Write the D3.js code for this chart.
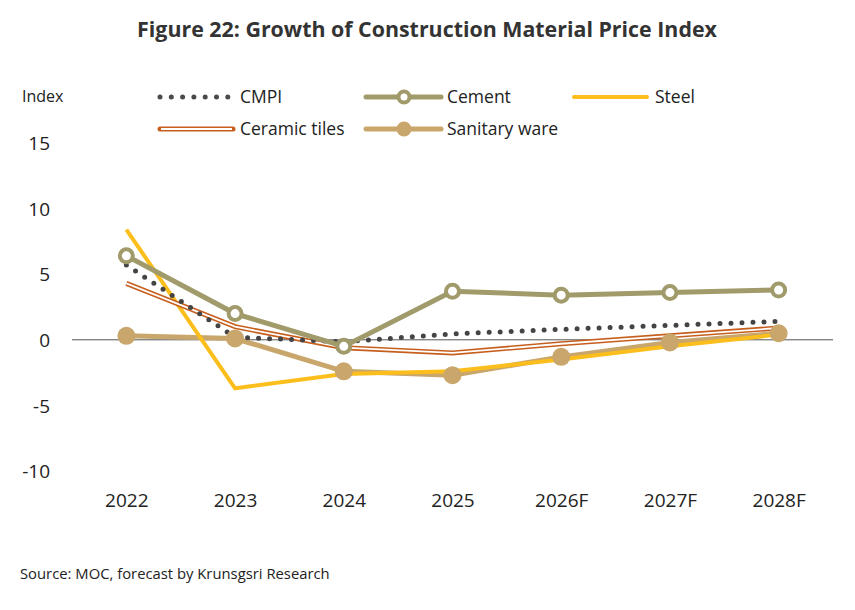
<!DOCTYPE html>
<html><head><meta charset="utf-8">
<script src="https://cdn.jsdelivr.net/npm/d3@7"></script>
<style>body{margin:0;background:#fff;} text{font-family:"Open Sans",sans-serif;fill:#222;}</style>
</head><body>
<svg id="c" width="855" height="610"></svg>
<script>
const categories = ["2022","2023","2024","2025","2026F","2027F","2028F"];
const cmpi = [5.7, 0.2, -0.15, 0.45, 0.8, 1.1, 1.4];
const cement = [6.4, 2.0, -0.5, 3.7, 3.4, 3.6, 3.8];
const steel = [8.4, -3.7, -2.6, -2.4, -1.5, -0.5, 0.4];
const ceramic = [4.3, 1.0, -0.6, -1.0, -0.3, 0.3, 0.9];
const sanitary = [0.3, 0.1, -2.4, -2.7, -1.3, -0.2, 0.5];
const yTicks = [15, 10, 5, 0, -5, -10];

const svg = d3.select("#c");
const x = d3.scalePoint().domain(categories).range([72, 833]).padding(0.5);
const y = d3.scaleLinear().domain([-10, 15]).range([471, 143]);

// title
const title = svg.append("text").attr("x", 427).attr("y", 37).attr("text-anchor","middle")
  .style("font-weight","bold").style("font-size","21px").style("fill","#333")
  .text("Figure 22: Growth of Construction Material Price Index");
const tw = title.node().getComputedTextLength();
title.style("font-size", (21*580/tw)+"px");

// y axis labels
const yAxis = d3.axisLeft(y).tickValues(yTicks).tickSize(0).tickPadding(0).tickFormat(d=>d);
const ga = svg.append("g").attr("transform","translate(50,0)").call(yAxis);
ga.select(".domain").remove();
ga.selectAll("text").style("font-size","19px").style("font-family","'Open Sans',sans-serif").attr("fill","#222").attr("dy","0.35em");
svg.append("text").attr("x",22).attr("y",102).style("font-size","16px").text("Index");

// x axis labels
const xAxis = d3.axisBottom(x).tickSize(0).tickPadding(0);
const gx = svg.append("g").attr("transform","translate(0,500)").call(xAxis);
gx.select(".domain").remove();
gx.selectAll("text").style("font-size","19px").style("font-family","'Open Sans',sans-serif").attr("fill","#222").attr("dy","0.35em");

// zero line
svg.append("line").attr("x1",72).attr("x2",833).attr("y1",y(0)).attr("y2",y(0)).attr("stroke","#555").attr("stroke-width",1);

const line = d3.line().x((d,i)=>x(categories[i])).y(d=>y(d));
const cCement="#a19b6b", cSteel="#fbbe1c", cCer="#c65f1d", cSan="#c9a66b", cCmpi="#444";

// sanitary
svg.append("path").datum(sanitary).attr("d",line).attr("fill","none").attr("stroke",cSan).attr("stroke-width",5);
// steel
svg.append("path").datum(steel).attr("d",line).attr("fill","none").attr("stroke",cSteel).attr("stroke-width",4);
// ceramic double
svg.append("path").datum(ceramic).attr("d",line).attr("fill","none").attr("stroke",cCer).attr("stroke-width",5);
svg.append("path").datum(ceramic).attr("d",line).attr("fill","none").attr("stroke","#fff").attr("stroke-width",1.8);
// cmpi dotted
svg.append("path").datum(cmpi).attr("d",line).attr("fill","none").attr("stroke",cCmpi).attr("stroke-width",5)
  .attr("stroke-linecap","round").attr("stroke-dasharray","0 11");
// cement
svg.append("path").datum(cement).attr("d",line).attr("fill","none").attr("stroke",cCement).attr("stroke-width",5);
svg.selectAll(".cm").data(cement).enter().append("circle").attr("cx",(d,i)=>x(categories[i])).attr("cy",d=>y(d))
  .attr("r",6.5).attr("fill","#fff").attr("stroke",cCement).attr("stroke-width",4);
svg.selectAll(".sm").data(sanitary).enter().append("circle").attr("cx",(d,i)=>x(categories[i])).attr("cy",d=>y(d))
  .attr("r",9).attr("fill",cSan);

// legend
const L = svg.append("g");
const r1 = 97, r2 = 129, fs = "17.5px";
L.append("line").attr("x1",160).attr("x2",228).attr("y1",r1).attr("y2",r1).attr("stroke","#4a4a4a").attr("stroke-width",5).attr("stroke-linecap","round").attr("stroke-dasharray","0 11.3");
L.append("text").attr("x",240).attr("y",r1).attr("dy","0.35em").style("font-size",fs).text("CMPI");
L.append("line").attr("x1",366).attr("x2",441).attr("y1",r1).attr("y2",r1).attr("stroke",cCement).attr("stroke-width",5).attr("stroke-linecap","round");
L.append("circle").attr("cx",404).attr("cy",r1).attr("r",5.5).attr("fill","#fff").attr("stroke",cCement).attr("stroke-width",4);
L.append("text").attr("x",447).attr("y",r1).attr("dy","0.35em").style("font-size",fs).text("Cement");
L.append("line").attr("x1",574).attr("x2",647).attr("y1",r1).attr("y2",r1).attr("stroke",cSteel).attr("stroke-width",4).attr("stroke-linecap","round");
L.append("text").attr("x",655).attr("y",r1).attr("dy","0.35em").style("font-size",fs).text("Steel");
L.append("line").attr("x1",160).attr("x2",233).attr("y1",r2).attr("y2",r2).attr("stroke",cCer).attr("stroke-width",5).attr("stroke-linecap","round");
L.append("line").attr("x1",161).attr("x2",232).attr("y1",r2).attr("y2",r2).attr("stroke","#fff").attr("stroke-width",1.8);
L.append("text").attr("x",240).attr("y",r2).attr("dy","0.35em").style("font-size",fs).text("Ceramic tiles");
L.append("line").attr("x1",366).attr("x2",441).attr("y1",r2).attr("y2",r2).attr("stroke",cSan).attr("stroke-width",5).attr("stroke-linecap","round");
L.append("circle").attr("cx",404).attr("cy",r2).attr("r",7.5).attr("fill",cSan);
L.append("text").attr("x",447).attr("y",r2).attr("dy","0.35em").style("font-size",fs).text("Sanitary ware");

// source
const src = svg.append("text").attr("x",20).attr("y",579).style("font-size","14px").text("Source: MOC, forecast by Krunsgsri Research");
const sw = src.node().getComputedTextLength();
src.style("font-size",(14*310/sw)+"px");
</script>
</body></html>
